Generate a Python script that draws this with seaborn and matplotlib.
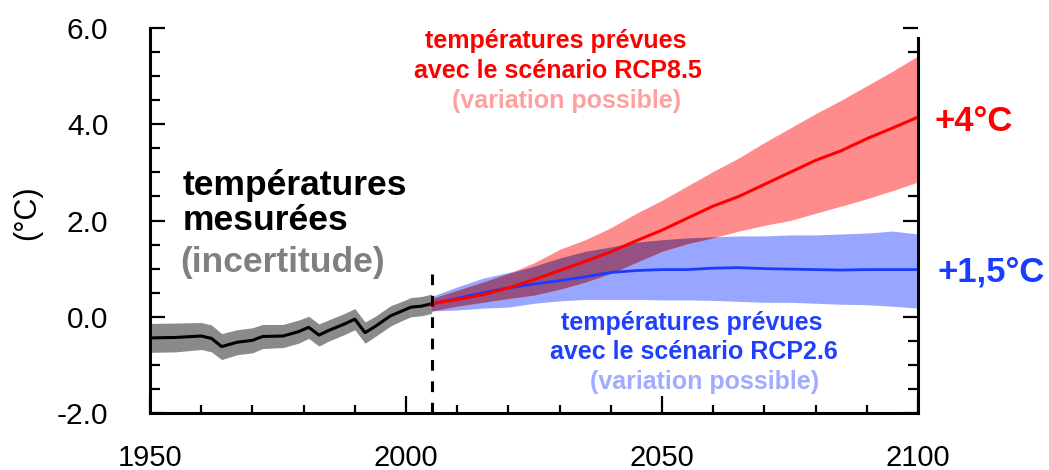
import matplotlib
matplotlib.use('Agg')
import matplotlib.pyplot as plt
import seaborn as sns
import numpy as np
import pandas as pd
from matplotlib.ticker import MultipleLocator

# températures mesurées
obs_years = [1950, 1955, 1960, 1962, 1964, 1967, 1970, 1972, 1976, 1979, 1981,
             1983, 1985, 1988, 1990, 1992, 1994, 1997, 1999, 2001, 2003, 2005]
obs_mean = [-0.44, -0.43, -0.40, -0.45, -0.62, -0.53, -0.49, -0.41, -0.40, -0.31, -0.22,
            -0.38, -0.28, -0.15, -0.05, -0.33, -0.20, 0.02, 0.11, 0.20, 0.22, 0.27]
obs_err = [0.30, 0.30, 0.28, 0.28, 0.27, 0.26, 0.26, 0.25, 0.24, 0.24, 0.23,
           0.23, 0.22, 0.22, 0.22, 0.22, 0.21, 0.21, 0.20, 0.20, 0.20, 0.20]

# projections
proj_years = [2005, 2010, 2015, 2020, 2025, 2030, 2035, 2040, 2045, 2050,
              2055, 2060, 2065, 2070, 2075, 2080, 2085, 2090, 2095, 2100]
rcp85_mean = [0.27, 0.36, 0.46, 0.60, 0.77, 0.96, 1.15, 1.35, 1.58, 1.80,
              2.05, 2.30, 2.50, 2.75, 3.00, 3.25, 3.45, 3.70, 3.92, 4.15]
rcp85_high = [0.38, 0.55, 0.72, 0.90, 1.12, 1.40, 1.60, 1.85, 2.15, 2.42,
              2.72, 3.02, 3.30, 3.62, 3.92, 4.22, 4.50, 4.80, 5.10, 5.42]
rcp85_low = [0.12, 0.22, 0.30, 0.38, 0.45, 0.57, 0.72, 0.90, 1.13, 1.36,
             1.52, 1.64, 1.78, 1.90, 2.00, 2.15, 2.30, 2.45, 2.62, 2.80]
rcp26_mean = [0.27, 0.38, 0.50, 0.60, 0.68, 0.75, 0.83, 0.92, 0.96, 0.98,
              0.98, 1.01, 1.02, 1.00, 0.99, 0.98, 0.97, 0.98, 0.98, 0.98]
rcp26_high = [0.42, 0.62, 0.80, 0.92, 1.05, 1.22, 1.36, 1.45, 1.55, 1.60,
              1.64, 1.66, 1.68, 1.68, 1.70, 1.70, 1.72, 1.74, 1.78, 1.72]
rcp26_low = [0.12, 0.14, 0.18, 0.20, 0.28, 0.33, 0.36, 0.36, 0.36, 0.35,
             0.35, 0.34, 0.32, 0.30, 0.30, 0.28, 0.26, 0.25, 0.22, 0.18]

x_ticks = [1950, 2000, 2050, 2100]
y_ticks = [-2.0, 0.0, 2.0, 4.0, 6.0]

obs = pd.DataFrame({'year': obs_years, 'temp': obs_mean, 'err': obs_err})
proj = pd.DataFrame({'year': proj_years,
                     'rcp85': rcp85_mean, 'rcp85_hi': rcp85_high, 'rcp85_lo': rcp85_low,
                     'rcp26': rcp26_mean, 'rcp26_hi': rcp26_high, 'rcp26_lo': rcp26_low})

sns.set_theme(style='white')
plt.rcParams['font.family'] = ['Liberation Sans', 'DejaVu Sans']
plt.rcParams['text.color'] = 'black'
plt.rcParams['xtick.color'] = 'black'
plt.rcParams['ytick.color'] = 'black'

fig = plt.figure(figsize=(10.49, 4.70), dpi=100)
ax = fig.add_axes([150 / 1049, 57 / 470, 768 / 1049, 385 / 470])

# bandes
ax.fill_between(obs['year'], obs['temp'] - obs['err'], obs['temp'] + obs['err'],
                color='#8a8a8a', lw=0)
ax.fill_between(proj['year'], proj['rcp26_lo'], proj['rcp26_hi'], color='#98a6ff', lw=0)
ax.fill_between(proj['year'], proj['rcp85_lo'], proj['rcp85_hi'], color='#ff8c8c', lw=0)
ov_lo = np.maximum(proj['rcp85_lo'], proj['rcp26_lo'])
ov_hi = np.minimum(proj['rcp85_hi'], proj['rcp26_hi'])
ax.fill_between(proj['year'], ov_lo, ov_hi, where=ov_hi > ov_lo, interpolate=True,
                color='#945182', lw=0)

# courbes
sns.lineplot(data=obs, x='year', y='temp', color='black', lw=2.2, ax=ax)
sns.lineplot(data=proj, x='year', y='rcp26', color='#1a3cff', lw=2.0, ax=ax)
sns.lineplot(data=proj, x='year', y='rcp85', color='#ff0000', lw=2.2, ax=ax)

ax.vlines(2005, -2.0, 1.0, colors='black', lw=2.2, linestyles=(0, (3.5, 3.5)))

ax.set_xlim(1950, 2100)
ax.set_ylim(-2.0, 6.0)
ax.set_xlabel('')
ax.set_ylabel('')
ax.set_xticks(x_ticks)
ax.set_yticks(y_ticks)
ax.set_yticklabels([f'{v:.1f}' for v in y_ticks])
ax.xaxis.set_minor_locator(MultipleLocator(10))
ax.yaxis.set_minor_locator(MultipleLocator(0.5))

for side in ['left', 'bottom', 'right']:
    ax.spines[side].set_visible(True)
    ax.spines[side].set_linewidth(2.2)
    ax.spines[side].set_color('black')
ax.spines['top'].set_visible(False)
ax.spines['right'].set_bounds(-2.0, 5.8)

ax.tick_params(axis='both', which='both', direction='in', color='black', width=1.6,
               left=True, right=True, bottom=True, top=False, labelcolor='black')
ax.tick_params(axis='y', which='major', length=11, pad=30, labelsize=21.5)
ax.tick_params(axis='y', which='minor', length=7)
ax.tick_params(axis='x', which='major', length=12, pad=22, labelsize=21)
ax.tick_params(axis='x', which='minor', length=6)

fig.text(27 / 1049, 1 - 213 / 470, '(°C)', rotation=90, fontsize=22,
         ha='center', va='center', color='black')

# annotations
bold = dict(fontweight='bold', clip_on=False)
ax.text(2029.3, 5.72, 'températures prévues', color='#ff0000', fontsize=18,
        ha='center', va='center', **bold)
ax.text(2029.6, 5.10, 'avec le scénario RCP8.5', color='#ff0000', fontsize=18,
        ha='center', va='center', **bold)
ax.text(2031.3, 4.48, '(variation possible)', color='#ffa0a0', fontsize=18,
        ha='center', va='center', **bold)

ax.text(1956.4, 2.72, 'températures', color='black', fontsize=25.5,
        ha='left', va='center', **bold)
ax.text(1956.4, 1.99, 'mesurées', color='black', fontsize=25.5,
        ha='left', va='center', **bold)
ax.text(1955.9, 1.12, '(incertitude)', color='#808080', fontsize=25.5,
        ha='left', va='center', **bold)

ax.text(2055.9, -0.12, 'températures prévues', color='#2040ff', fontsize=18,
        ha='center', va='center', **bold)
ax.text(2056.3, -0.73, 'avec le scénario RCP2.6', color='#2040ff', fontsize=18,
        ha='center', va='center', **bold)
ax.text(2058.4, -1.35, '(variation possible)', color='#a0acff', fontsize=18,
        ha='center', va='center', **bold)

ax.text(2103.3, 4.06, '+4°C', color='#ff0000', fontsize=25,
        ha='left', va='center', **bold)
ax.text(2103.9, 0.92, '+1,5°C', color='#1a3cff', fontsize=25,
        ha='left', va='center', **bold)

fig.savefig('out.png', dpi=100)
